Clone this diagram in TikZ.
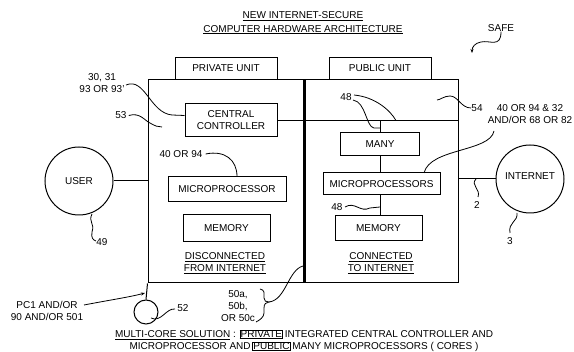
\documentclass[tikz,border=0pt]{standalone}
\usepackage{fontspec}
\setmainfont{Liberation Sans}
\usetikzlibrary{arrows.meta}
\begin{document}
\begin{tikzpicture}[x=1pt,y=-1pt,
  every node/.style={font=\fontsize{10}{12}\selectfont, inner sep=0pt},
  box/.style={draw, line width=1pt},
  ln/.style={line width=1pt},
  lead/.style={line width=0.8pt},
  lbl/.style={align=center}
]
\path[use as bounding box] (0,0) rectangle (574,352);
\fboxsep=0.4pt \fboxrule=0.7pt

% title
\node[lbl, font=\fontsize{10}{13.5}\selectfont] (title) at (303,23)
  {\underline{NEW INTERNET-SECURE}\\\underline{COMPUTER HARDWARE ARCHITECTURE}};
\node (safe) at (501,28) {SAFE};
\draw[lead, -{Stealth[length=4pt,width=3pt]}] (safe.south) .. controls (501,48) and (490,40) .. (481,42) .. controls (475,43) and (472,47) .. (472,53);

% unit boxes
\node[box, minimum width=156pt, minimum height=203pt] (privbox) at (226,181.5) {};
\node[box, minimum width=154pt, minimum height=203pt] (pubbox) at (381,181.5) {};
\draw[line width=3pt] (privbox.north east) -- (privbox.south east);
\node[box, minimum width=102pt, minimum height=22pt] (privtab) at (226,68.5) {PRIVATE UNIT};
\node[box, minimum width=102pt, minimum height=22pt] (pubtab) at (380,68.5) {PUBLIC UNIT};

% private content
\node[box, lbl, minimum width=92pt, minimum height=33pt] (cc) at (231,120.5) {CENTRAL\\CONTROLLER};
\node[box, minimum width=118pt, minimum height=25pt] (mp) at (227,189.5) {MICROPROCESSOR};
\node[box, minimum width=87pt, minimum height=27pt] (mem) at (226.5,228.5) {MEMORY};
\node[lbl] (disc) at (225,263) {\underline{DISCONNECTED}\\\underline{FROM INTERNET}};

% public content
\draw[ln] (cc.east) -- (pubbox.east |- cc.east);
\node[box, minimum width=79pt, minimum height=23pt] (many) at (380,144.5) {MANY};
\node[box, minimum width=117pt, minimum height=22pt] (mps) at (381.5,184) {MICROPROCESSORS};
\node[box, minimum width=87pt, minimum height=25pt] (pmem) at (378.5,228.5) {MEMORY};
\node[lbl] (conn) at (381,263) {\underline{CONNECTED}\\\underline{TO INTERNET}};
\draw[ln] (many.north) -- (many.north |- cc.east);
\draw[ln] (many.south) -- (many.south |- mps.north);
\draw[ln] (pmem.north -| many.south) -- (mps.south -| many.south);

% user and internet
\node[draw, circle, ln, minimum size=68pt] (user) at (79,181) {USER};
\node[draw, circle, ln, minimum size=68pt] (inet) at (530,179) {};
\node (inettxt) at (530,176) {INTERNET};
\draw[ln] (user.east) -- (privbox.west |- user.east);
\draw[ln] (pubbox.east |- inet.west) -- (inet.west);

% small circle 52
\node[draw, circle, ln, minimum size=24pt] (c52) at (146,312) {};
\draw[ln] (privbox.south west) -- (c52.north);

% labels and leaders
\node[lbl] (l3031) at (102,83) {30, 31\\93 OR 93'};
\draw[lead] (126,85) .. controls (145,77) and (150,113) .. (172,115) -- ([yshift=5pt]cc.west);
\node (l53) at (121,115.5) {53};
\draw[lead] (l53.east) ++(2,0) .. controls (140,112) and (145,121) .. (150,123) .. controls (155,126) and (158,127) .. (162,127);
\node (l4094) at (181,154) {40 OR 94};
\draw[lead] (l4094.east) ++(3,0) .. controls (225,150) and (237,160) .. (mp.north -| 237,0);
\node (l48a) at (346,97) {48};
\draw[lead] (354,95) .. controls (375,97) and (390,110) .. (396,120.5);
\draw[lead] (353,100) .. controls (366,102) and (366,127) .. (374,128) -- (many.north |- 0,128);
\node (l54) at (477,108) {54};
\draw[lead] (471,108) .. controls (461,108) and (458,96) .. (450,96) .. controls (444,96) and (440,100) .. (437,100);
\node[lbl] (l4094b) at (530,114) {40 OR 94 \& 32\\AND/OR 68 OR 82};
\draw[lead] (494,131) .. controls (490,152) and (430,148) .. (424,173);
\node (l48b) at (337,207) {48};
\draw[lead] (345,207) .. controls (355,201) and (360,213) .. (370,208) -- (many.south |- 0,207);
\node (l2) at (477,205) {2};
\draw[lead] (476,179) .. controls (470,185) and (481,189) .. (478,197);
\node (l3) at (510,241) {3};
\draw[lead] (517,213) .. controls (518,222) and (508,222) .. (510,233);
\node (l49) at (102,242) {49};
\draw[lead] (92,214) .. controls (88,222) and (95,223) .. (92,232) .. controls (91,238) and (93,240) .. (96,241);
\node[lbl] (lpc1) at (47,311) {PC1 AND/OR\\90 AND/OR 501};
\draw[lead, -{Stealth[length=4pt,width=3pt]}] (84,305) .. controls (110,300) and (130,297) .. (145,293);
\node (l52) at (183,308) {52};
\draw[lead] (151,318) .. controls (161,323) and (166,308) .. (175,309);
\node[lbl] (l50) at (238,306) {50a,\\50b,\\OR 50c};
\draw[lead] (260,289) .. controls (265,290) and (264,293) .. (264,298) .. controls (264,301) and (266,302) .. (269,302)
  .. controls (266,302) and (264,304) .. (264,308) -- (264,313) .. controls (264,317) and (260,320) .. (256,322);
\draw[lead] (269,302) .. controls (286,300) and (288,270) .. (303,266);

% caption
\node[lbl] (caption) at (304,341) {\underline{MULTI-CORE SOLUTION} : \fbox{PRIVATE}\,INTEGRATED CENTRAL CONTROLLER AND\\MICROPROCESSOR AND\,\fbox{PUBLIC}\,MANY MICROPROCESSORS ( CORES )};
\end{tikzpicture}
\end{document}
